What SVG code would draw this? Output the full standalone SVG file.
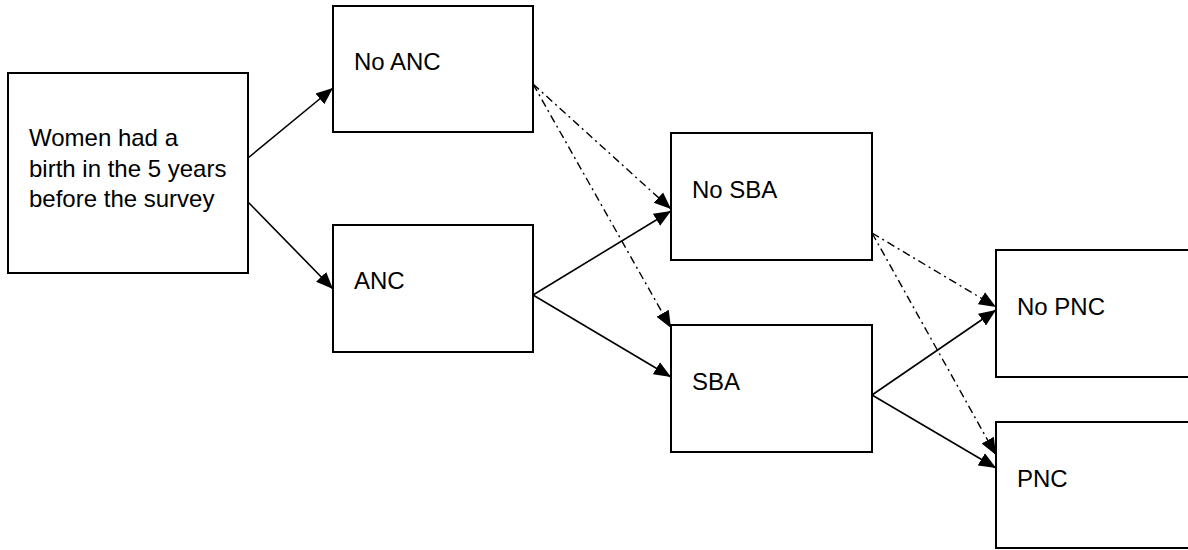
<svg xmlns="http://www.w3.org/2000/svg" width="1188" height="550" viewBox="0 0 1188 550">
  <defs>
    <marker id="arrow" markerUnits="userSpaceOnUse" markerWidth="18" markerHeight="16" viewBox="0 0 18 16" refX="17" refY="8" orient="auto">
      <path d="M0,1 L17,8 L0,15 Z" fill="#000"/>
    </marker>
    <style>
      .box { fill: #fff; stroke: #000; stroke-width: 2; }
      .label { font-family: "Liberation Sans", Arial, sans-serif; font-size: 24px; fill: #000; }
      .solid { stroke: #000; stroke-width: 1.6; fill: none; marker-end: url(#arrow); }
      .dashdot { stroke: #000; stroke-width: 1.4; fill: none; stroke-dasharray: 8 4 2 4; marker-end: url(#arrow); }
    </style>
  </defs>
  <rect width="1188" height="550" fill="#fff"/>

  <g id="connectors">
    <!-- from the starting population -->
    <line class="solid" x1="248" y1="158" x2="333" y2="88"/>
    <line class="solid" x1="248" y1="202" x2="333" y2="289"/>
    <!-- from No ANC -->
    <line class="dashdot" x1="533" y1="84" x2="671" y2="209"/>
    <line class="dashdot" x1="533" y1="84" x2="671" y2="328"/>
    <!-- from ANC -->
    <line class="solid" x1="533" y1="295" x2="671" y2="211"/>
    <line class="solid" x1="533" y1="295" x2="671" y2="377"/>
    <!-- from No SBA -->
    <line class="dashdot" x1="872" y1="233" x2="996" y2="307"/>
    <line class="dashdot" x1="872" y1="233" x2="996" y2="455"/>
    <!-- from SBA -->
    <line class="solid" x1="872" y1="395" x2="996" y2="310"/>
    <line class="solid" x1="872" y1="395" x2="996" y2="468"/>
  </g>

  <g id="node-women">
    <rect class="box" x="8" y="73" width="240" height="200"/>
    <text class="label" x="29" y="146">Women had a</text>
    <text class="label" x="29" y="176.5">birth in the 5 years</text>
    <text class="label" x="29" y="207">before the survey</text>
  </g>

  <g id="node-no-anc">
    <rect class="box" x="333" y="6" width="200" height="126"/>
    <text class="label" x="354" y="70">No ANC</text>
  </g>

  <g id="node-anc">
    <rect class="box" x="333" y="225" width="200" height="127"/>
    <text class="label" x="354" y="289">ANC</text>
  </g>

  <g id="node-no-sba">
    <rect class="box" x="671" y="133" width="201" height="127"/>
    <text class="label" x="692" y="198">No SBA</text>
  </g>

  <g id="node-sba">
    <rect class="box" x="671" y="325" width="201" height="127"/>
    <text class="label" x="692" y="390">SBA</text>
  </g>

  <g id="node-no-pnc">
    <rect class="box" x="996" y="250" width="220" height="127"/>
    <text class="label" x="1017" y="315">No PNC</text>
  </g>

  <g id="node-pnc">
    <rect class="box" x="996" y="422" width="220" height="126"/>
    <text class="label" x="1017" y="487">PNC</text>
  </g>
</svg>
